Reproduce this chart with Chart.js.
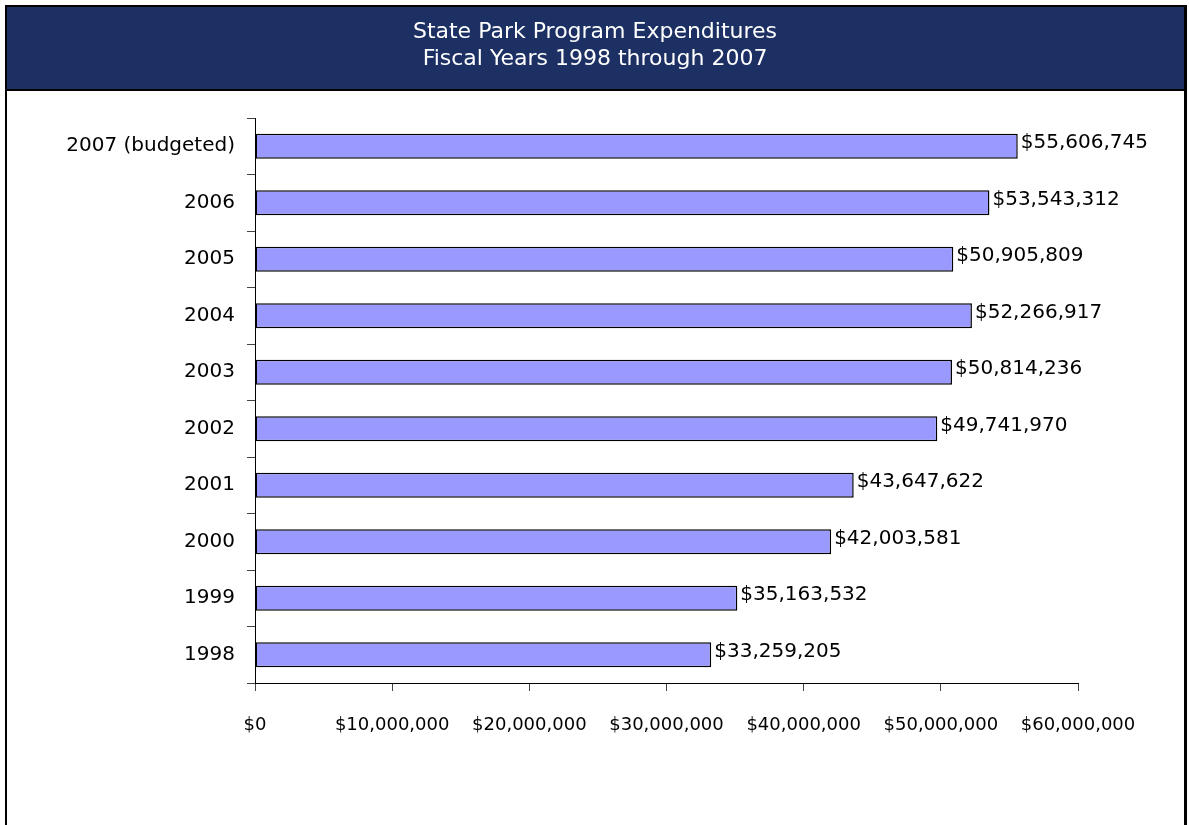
<!DOCTYPE html>
<html>
<head>
<meta charset="utf-8">
<script src="https://cdn.jsdelivr.net/npm/chart.js@4/dist/chart.umd.min.js"></script>
<style>
html,body{margin:0;padding:0;background:#fff;}
canvas{display:block;}
</style>
</head>
<body>
<canvas id="c" width="1189" height="825"></canvas>
<script>
const titleLines = ['State Park Program Expenditures', 'Fiscal Years 1998 through 2007'];
const categories = ['2007 (budgeted)', '2006', '2005', '2004', '2003', '2002', '2001', '2000', '1999', '1998'];
const expenditures = [55606745, 53543312, 50905809, 52266917, 50814236, 49741970, 43647622, 42003581, 35163532, 33259205];
const xTickMin = 0;
const xTickMax = 60000000;
const xTickStep = 10000000;

const FONT = 'DejaVu Sans';
const money = v => '$' + Number(v).toLocaleString('en-US');

const frame = {
  id: 'frame',
  beforeDraw(chart) {
    const ctx = chart.ctx;
    const W = chart.width, H = chart.height;
    ctx.save();
    ctx.fillStyle = '#ffffff';
    ctx.fillRect(0, 0, W, H);
    ctx.fillStyle = '#1c3064';
    ctx.fillRect(7, 7, 1177, 82);
    ctx.fillStyle = '#000000';
    ctx.fillRect(5, 5, 1182, 2);      // top
    ctx.fillRect(5, 5, 2, H - 5);     // left
    ctx.fillRect(1184, 5, 3, H - 5);  // right
    ctx.fillRect(5, 89, 1182, 2);     // header bottom
    // header title
    ctx.fillStyle = '#ffffff';
    ctx.font = '22px "' + FONT + '"';
    ctx.textAlign = 'center';
    ctx.textBaseline = 'middle';
    ctx.fillText(titleLines[0], 595, 32);
    ctx.fillText(titleLines[1], 595, 59);
    ctx.restore();
  }
};

const valueLabels = {
  id: 'valueLabels',
  afterDatasetsDraw(chart) {
    const ctx = chart.ctx;
    const meta = chart.getDatasetMeta(0);
    ctx.save();
    ctx.font = '20px "' + FONT + '"';
    ctx.fillStyle = '#000';
    ctx.textAlign = 'left';
    ctx.textBaseline = 'middle';
    meta.data.forEach((el, i) => {
      ctx.fillText(money(chart.data.datasets[0].data[i]), el.x + 3, el.y - 3);
    });
    ctx.restore();
  }
};

new Chart(document.getElementById('c'), {
  type: 'bar',
  data: {
    labels: categories,
    datasets: [{
      data: expenditures,
      backgroundColor: '#9999ff',
      borderColor: '#000000',
      borderWidth: 1.5,
      borderSkipped: false,
      barPercentage: 0.44,
      categoryPercentage: 1.0
    }]
  },
  options: {
    indexAxis: 'y',
    responsive: false,
    animation: false,
    layout: { padding: { left: 0, right: 111, top: 118, bottom: 0 } },
    plugins: {
      legend: { display: false },
      tooltip: { enabled: false },
      title: { display: false }
    },
    scales: {
      x: {
        type: 'linear',
        position: 'bottom',
        min: xTickMin,
        max: xTickMax,
        ticks: {
          stepSize: xTickStep,
          callback: v => money(v),
          color: '#000',
          font: { family: FONT, size: 18 },
          padding: 24,
          maxRotation: 0
        },
        grid: { drawOnChartArea: false, tickLength: 8, color: '#444', lineWidth: 1 },
        border: { color: '#000', width: 1 },
        afterFit(scale) { scale.height = 142; }
      },
      y: {
        type: 'category',
        offset: true,
        ticks: {
          color: '#000',
          font: { family: FONT, size: 20 },
          padding: 12
        },
        grid: { offset: true, drawOnChartArea: false, tickLength: 8, color: '#444', lineWidth: 1 },
        border: { color: '#000', width: 1 },
        afterFit(scale) { scale.width = 255; }
      }
    }
  },
  plugins: [frame, valueLabels]
});
</script>
</body>
</html>
